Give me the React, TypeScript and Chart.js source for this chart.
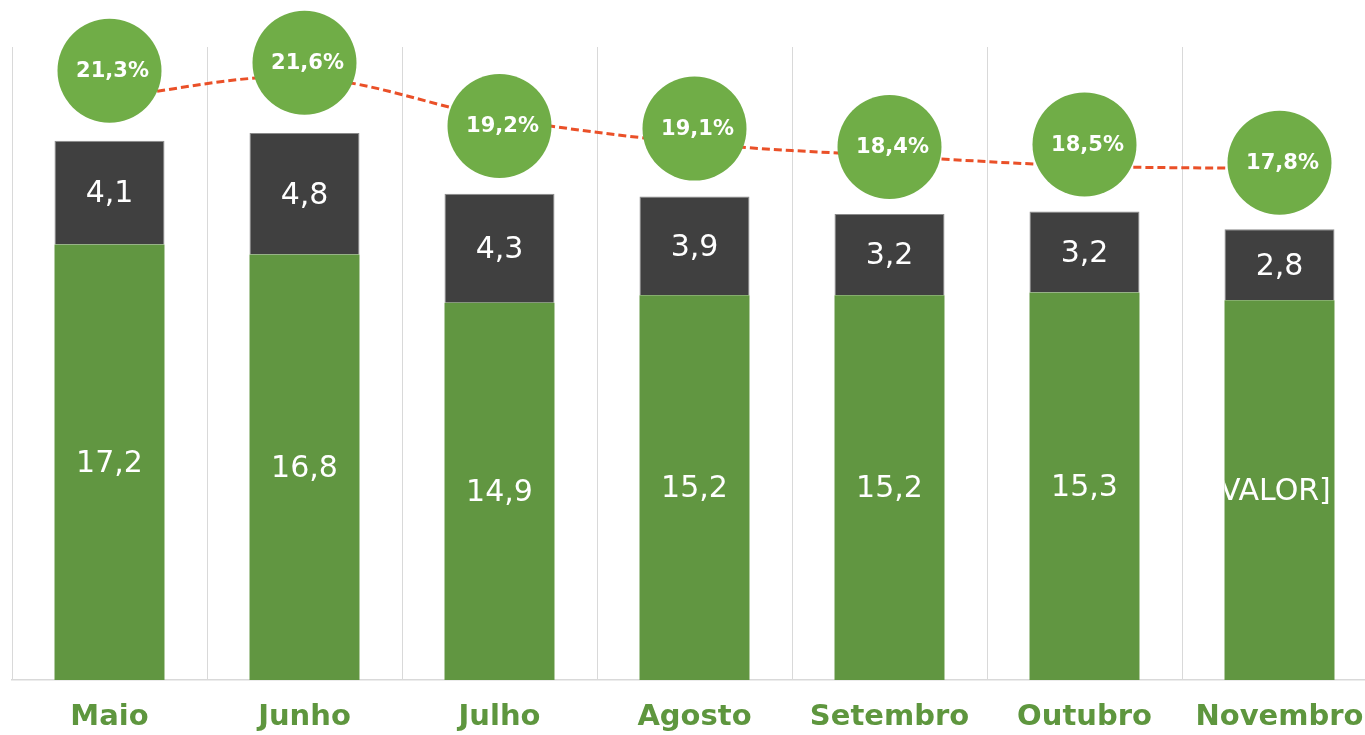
import React, { useEffect, useRef } from "react";
import { Chart, registerables } from "chart.js";

Chart.register(...registerables);

const months = ["Maio", "Junho", "Julho", "Agosto", "Setembro", "Outubro", "Novembro"];
const greenValues = [17.2, 16.8, 14.9, 15.2, 15.2, 15.3, 15.0];
const darkValues = [4.1, 4.8, 4.3, 3.9, 3.2, 3.2, 2.8];
const greenLabelOverride: (string | null)[] = [null, null, null, null, null, null, "[VALOR]"];
const percentValues = [21.3, 21.6, 19.2, 19.1, 18.4, 18.5, 17.8];
const trendValues = [23.0, 23.8, 22.2, 21.2, 20.7, 20.3, 20.2];

const GREEN_BAR = "#619641";
const DARK_BAR = "#404040";
const CIRCLE = "#70AD47";
const LINE = "#EA5028";
const AXIS_TEXT = "#5E963E";
const GRID = "#D9D9D9";
const FONT = "'DejaVu Sans', Verdana, sans-serif";

const fmt = (v: number) => v.toFixed(1).replace(".", ",");

const labelPlugin = {
  id: "customLabels",
  afterDatasetsDraw(chart: any) {
    const ctx = chart.ctx;
    ctx.save();
    // bar labels
    [0, 1].forEach((di) => {
      const meta = chart.getDatasetMeta(di);
      meta.data.forEach((bar: any, i: number) => {
        const props = bar.getProps(["x", "y", "base", "width"], true);
        const top = Math.min(props.y, props.base);
        const bottom = Math.max(props.y, props.base);
        const cy = (top + bottom) / 2;
        let text = fmt(chart.data.datasets[di].data[i]);
        let shift = 0;
        if (di === 0 && greenLabelOverride[i]) {
          text = greenLabelOverride[i] as string;
          shift = -10;
        }
        ctx.save();
        ctx.beginPath();
        ctx.rect(props.x - props.width / 2, top, props.width, bottom - top);
        ctx.clip();
        ctx.fillStyle = "#FFFFFF";
        ctx.font = `30px ${FONT}`;
        ctx.textAlign = "center";
        ctx.textBaseline = "middle";
        ctx.fillText(text, props.x + shift, cy + 2);
        ctx.restore();
      });
    });
    // circle labels
    const cmeta = chart.getDatasetMeta(3);
    cmeta.data.forEach((pt: any, i: number) => {
      const { x, y } = pt.getProps(["x", "y"], true);
      ctx.fillStyle = "#FFFFFF";
      ctx.font = `bold 21px ${FONT}`;
      ctx.textAlign = "center";
      ctx.textBaseline = "middle";
      ctx.fillText(fmt(percentValues[i]) + "%", x + 3, y + 1);
    });
    ctx.restore();
  },
};

export default function App() {
  const canvasRef = useRef<HTMLCanvasElement | null>(null);

  useEffect(() => {
    if (!canvasRef.current) return;
    const chart = new Chart(canvasRef.current, {
      type: "bar",
      data: {
        labels: months,
        datasets: [
          {
            type: "bar",
            label: "Verde",
            data: greenValues,
            backgroundColor: GREEN_BAR,
            borderWidth: 0,
            categoryPercentage: 1,
            barPercentage: 0.564,
            stack: "s",
            order: 3,
          },
          {
            type: "bar",
            label: "Cinza",
            data: darkValues,
            backgroundColor: DARK_BAR,
            borderColor: "#8a8a8a",
            borderWidth: { top: 1, left: 1, right: 1, bottom: 0 },
            categoryPercentage: 1,
            barPercentage: 0.564,
            stack: "s",
            order: 3,
          },
          {
            type: "line",
            label: "Tendência",
            data: trendValues,
            borderColor: LINE,
            borderWidth: 3,
            borderDash: [8, 4],
            tension: 0.35,
            pointRadius: 0,
            fill: false,
            clip: false,
            order: 2,
          },
          {
            type: "line",
            label: "Percentual",
            data: percentValues,
            yAxisID: "y2",
            showLine: false,
            pointRadius: 52,
            pointHoverRadius: 52,
            pointBackgroundColor: CIRCLE,
            pointBorderWidth: 0,
            borderColor: CIRCLE,
            clip: false,
            order: 1,
          },
        ],
      },
      options: {
        responsive: false,
        animation: false,
        events: [],
        layout: { autoPadding: false, padding: { left: 12, right: 23, top: 47, bottom: 0 } },
        plugins: {
          legend: { display: false },
          tooltip: { enabled: false },
        },
        scales: {
          x: {
            stacked: true,
            offset: true,
            grid: {
              display: true,
              offset: true,
              color: GRID,
              lineWidth: 1,
              drawTicks: false,
            },
            border: { display: true, color: GRID, width: 1.5 },
            ticks: {
              color: AXIS_TEXT,
              font: { family: FONT, size: 29, weight: "bold" },
              padding: 20,
              maxRotation: 0,
              autoSkip: false,
            },
            afterFit: (scale: any) => {
              scale.paddingLeft = 0;
              scale.paddingRight = 0;
              scale.height = 55;
            },
          },
          y: {
            stacked: true,
            display: false,
            min: 0,
            max: 25,
          },
          y2: {
            display: false,
            min: -1.85,
            max: 22.2,
          },
        },
      },
      plugins: [labelPlugin],
    } as any);
    return () => chart.destroy();
  }, []);

  return (
    <div
      style={{
        position: "fixed",
        left: 0,
        top: 0,
        width: 1365,
        height: 735,
        overflow: "hidden",
        background: "#FFFFFF",
      }}
    >
      <canvas ref={canvasRef} width={1400} height={735} style={{ display: "block" }} />
    </div>
  );
}
